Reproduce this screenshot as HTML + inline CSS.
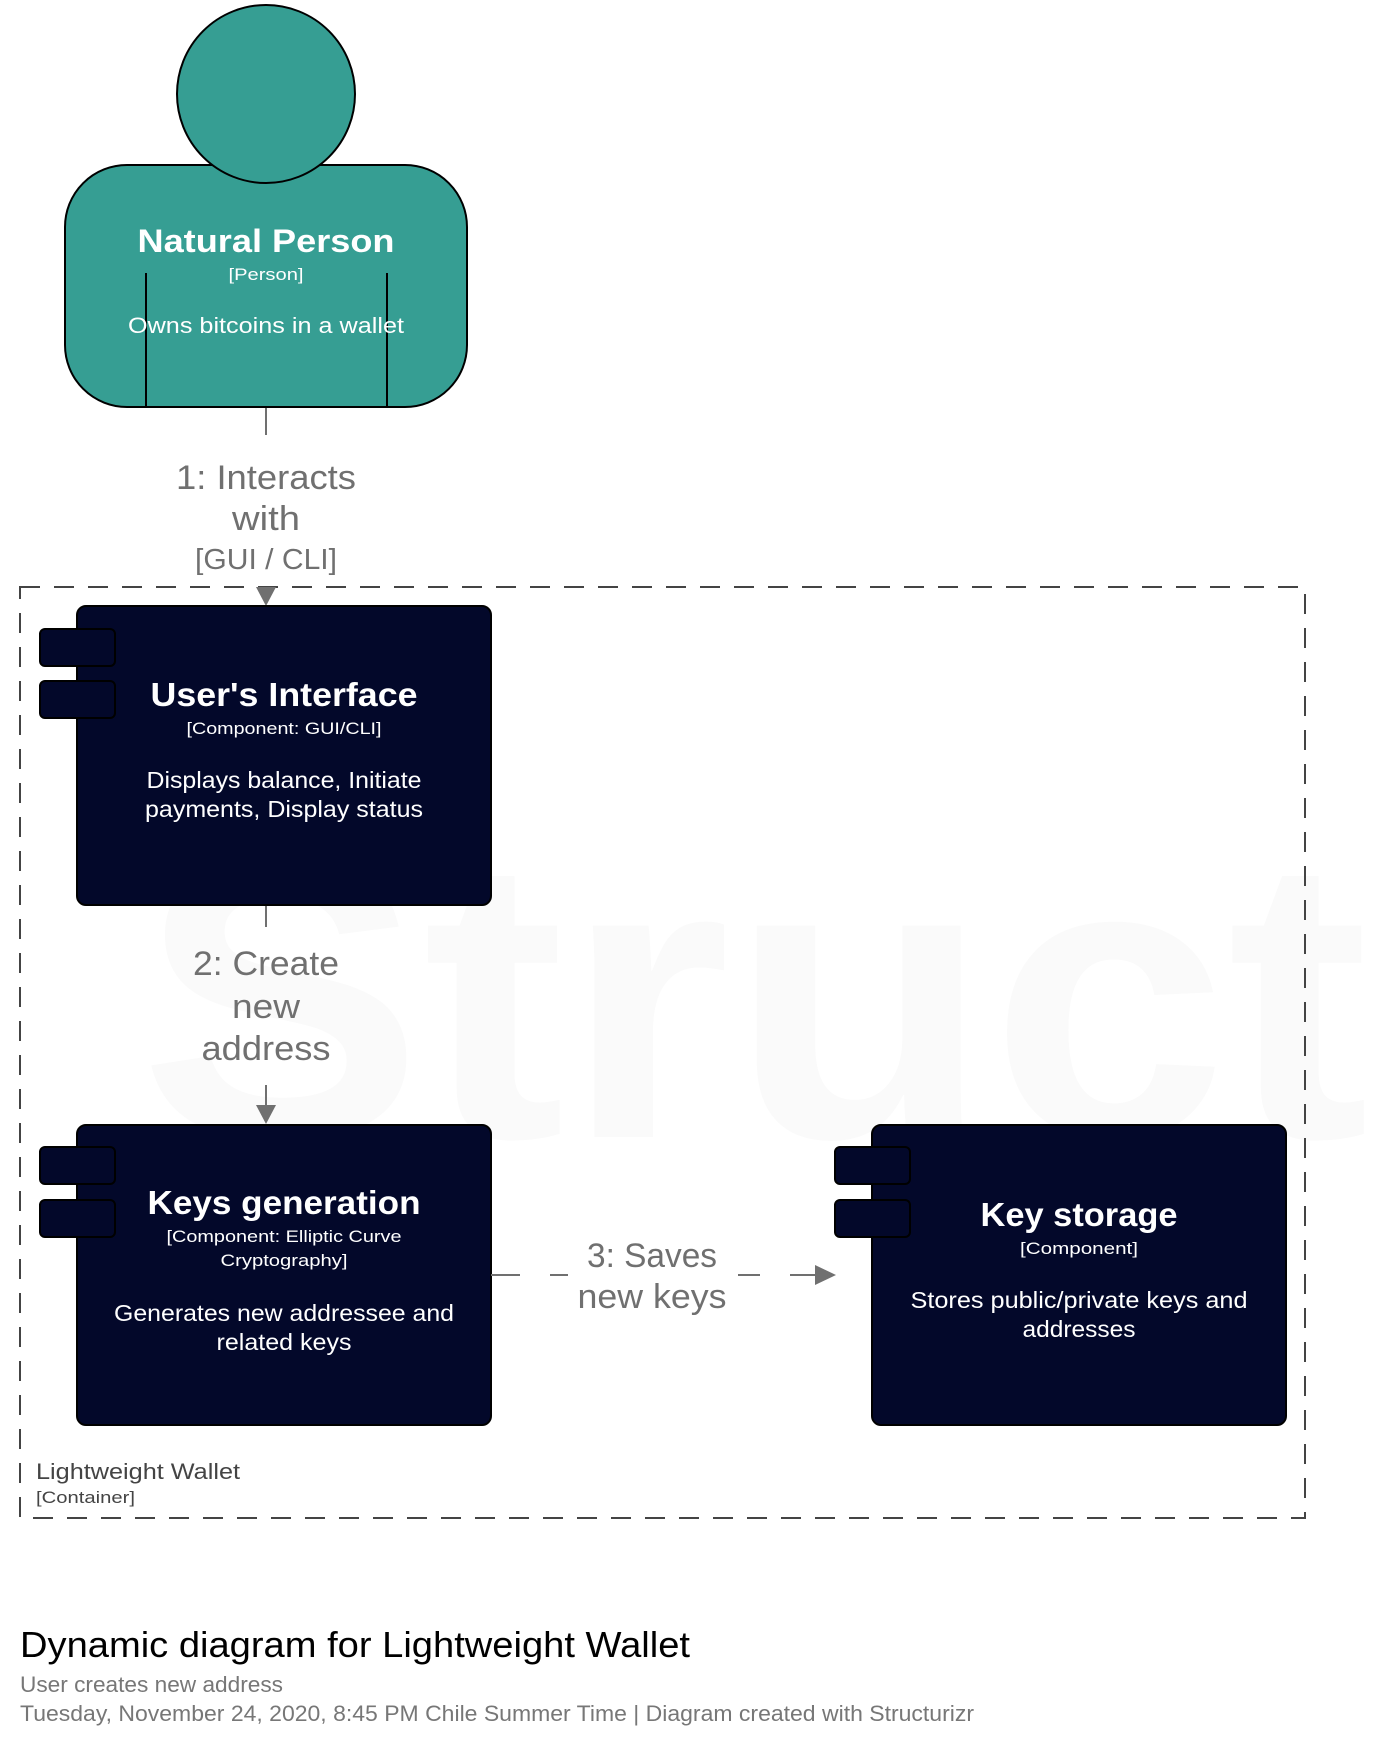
<!DOCTYPE html>
<html><head><meta charset="utf-8"><style>
html,body{margin:0;padding:0;background:#fff;}
svg{display:block;}
text{font-family:"Liberation Sans",sans-serif;}
</style></head><body>
<svg width="1397" height="1748" viewBox="0 0 1397 1748" xmlns="http://www.w3.org/2000/svg">
<text x="139" y="1137" font-size="400" font-weight="bold" fill="#fafafa" textLength="1230" lengthAdjust="spacingAndGlyphs">Struct</text>
<!-- boundary -->
<rect x="20" y="587" width="1285" height="931" fill="none" stroke="#444" stroke-width="2" stroke-dasharray="20,14"/>
<text x="36" y="1479" font-size="22" fill="#444" textLength="204" lengthAdjust="spacingAndGlyphs">Lightweight Wallet</text>
<text x="36" y="1503" font-size="17" fill="#444" textLength="99" lengthAdjust="spacingAndGlyphs">[Container]</text>
<!-- person -->
<rect x="65" y="165" width="402" height="242" rx="62" fill="#369e93" stroke="#000" stroke-width="2"/>
<circle cx="266" cy="94" r="89" fill="#369e93" stroke="#000" stroke-width="2"/>
<line x1="146" y1="273" x2="146" y2="406" stroke="#000" stroke-width="2"/>
<line x1="387" y1="273" x2="387" y2="406" stroke="#000" stroke-width="2"/>
<text x="266" y="252" font-size="32" font-weight="bold" fill="#fff" text-anchor="middle" textLength="257" lengthAdjust="spacingAndGlyphs">Natural Person</text>
<text x="266" y="280" font-size="17" fill="#fff" text-anchor="middle" textLength="75" lengthAdjust="spacingAndGlyphs">[Person]</text>
<text x="266" y="333" font-size="22" fill="#fff" text-anchor="middle" textLength="276" lengthAdjust="spacingAndGlyphs">Owns bitcoins in a wallet</text>
<!-- connector 1 -->
<line x1="266" y1="408" x2="266" y2="435" stroke="#707070" stroke-width="2"/>
<text x="266" y="489" font-size="34" fill="#707070" text-anchor="middle" textLength="180" lengthAdjust="spacingAndGlyphs">1: Interacts</text>
<text x="266" y="530" font-size="34" fill="#707070" text-anchor="middle" textLength="68" lengthAdjust="spacingAndGlyphs">with</text>
<text x="266" y="569" font-size="29" fill="#707070" text-anchor="middle" textLength="142" lengthAdjust="spacingAndGlyphs">[GUI / CLI]</text>
<polygon points="256,587 276,587 266,606" fill="#707070"/>
<!-- UI box -->
<rect x="77" y="606" width="414" height="299" rx="9" fill="#03082a" stroke="#000" stroke-width="2"/>
<rect x="40" y="629" width="75" height="37" rx="5" fill="#03082a" stroke="#000" stroke-width="2"/>
<rect x="40" y="681" width="75" height="37" rx="5" fill="#03082a" stroke="#000" stroke-width="2"/>
<text x="284" y="706" font-size="33" font-weight="bold" fill="#fff" text-anchor="middle" textLength="267" lengthAdjust="spacingAndGlyphs">User's Interface</text>
<text x="284" y="734" font-size="17" fill="#fff" text-anchor="middle" textLength="195" lengthAdjust="spacingAndGlyphs">[Component: GUI/CLI]</text>
<text x="284" y="788" font-size="23" fill="#fff" text-anchor="middle" textLength="275" lengthAdjust="spacingAndGlyphs">Displays balance, Initiate</text>
<text x="284" y="817" font-size="23" fill="#fff" text-anchor="middle" textLength="278" lengthAdjust="spacingAndGlyphs">payments, Display status</text>
<!-- connector 2 -->
<line x1="266" y1="906" x2="266" y2="927" stroke="#707070" stroke-width="2"/>
<text x="266" y="975" font-size="34" fill="#707070" text-anchor="middle" textLength="146" lengthAdjust="spacingAndGlyphs">2: Create</text>
<text x="266" y="1018" font-size="34" fill="#707070" text-anchor="middle" textLength="68" lengthAdjust="spacingAndGlyphs">new</text>
<text x="266" y="1060" font-size="34" fill="#707070" text-anchor="middle" textLength="129" lengthAdjust="spacingAndGlyphs">address</text>
<line x1="266" y1="1085" x2="266" y2="1106" stroke="#707070" stroke-width="2"/>
<polygon points="256,1105 276,1105 266,1124" fill="#707070"/>
<!-- Keys generation -->
<rect x="77" y="1125" width="414" height="300" rx="9" fill="#03082a" stroke="#000" stroke-width="2"/>
<rect x="40" y="1147" width="75" height="37" rx="5" fill="#03082a" stroke="#000" stroke-width="2"/>
<rect x="40" y="1200" width="75" height="37" rx="5" fill="#03082a" stroke="#000" stroke-width="2"/>
<text x="284" y="1214" font-size="33" font-weight="bold" fill="#fff" text-anchor="middle" textLength="273" lengthAdjust="spacingAndGlyphs">Keys generation</text>
<text x="284" y="1242" font-size="17" fill="#fff" text-anchor="middle" textLength="235" lengthAdjust="spacingAndGlyphs">[Component: Elliptic Curve</text>
<text x="284" y="1266" font-size="17" fill="#fff" text-anchor="middle" textLength="127" lengthAdjust="spacingAndGlyphs">Cryptography]</text>
<text x="284" y="1321" font-size="23" fill="#fff" text-anchor="middle" textLength="340" lengthAdjust="spacingAndGlyphs">Generates new addressee and</text>
<text x="284" y="1350" font-size="23" fill="#fff" text-anchor="middle" textLength="135" lengthAdjust="spacingAndGlyphs">related keys</text>
<!-- connector 3 -->
<line x1="491" y1="1275" x2="520" y2="1275" stroke="#707070" stroke-width="2"/>
<line x1="550" y1="1275" x2="568" y2="1275" stroke="#707070" stroke-width="2"/>
<line x1="738" y1="1275" x2="760" y2="1275" stroke="#707070" stroke-width="2"/>
<line x1="790" y1="1275" x2="816" y2="1275" stroke="#707070" stroke-width="2"/>
<polygon points="815,1265 836,1275 815,1285" fill="#707070"/>
<text x="652" y="1267" font-size="34" fill="#707070" text-anchor="middle" textLength="130" lengthAdjust="spacingAndGlyphs">3: Saves</text>
<text x="652" y="1308" font-size="34" fill="#707070" text-anchor="middle" textLength="149" lengthAdjust="spacingAndGlyphs">new keys</text>
<!-- Key storage -->
<rect x="872" y="1125" width="414" height="300" rx="9" fill="#03082a" stroke="#000" stroke-width="2"/>
<rect x="835" y="1147" width="75" height="37" rx="5" fill="#03082a" stroke="#000" stroke-width="2"/>
<rect x="835" y="1200" width="75" height="37" rx="5" fill="#03082a" stroke="#000" stroke-width="2"/>
<text x="1079" y="1226" font-size="33" font-weight="bold" fill="#fff" text-anchor="middle" textLength="197" lengthAdjust="spacingAndGlyphs">Key storage</text>
<text x="1079" y="1254" font-size="17" fill="#fff" text-anchor="middle" textLength="118" lengthAdjust="spacingAndGlyphs">[Component]</text>
<text x="1079" y="1308" font-size="23" fill="#fff" text-anchor="middle" textLength="337" lengthAdjust="spacingAndGlyphs">Stores public/private keys and</text>
<text x="1079" y="1337" font-size="23" fill="#fff" text-anchor="middle" textLength="113" lengthAdjust="spacingAndGlyphs">addresses</text>
<!-- footer -->
<text x="20" y="1657" font-size="36" fill="#000" textLength="670" lengthAdjust="spacingAndGlyphs">Dynamic diagram for Lightweight Wallet</text>
<text x="20" y="1692" font-size="22" fill="#777" textLength="263" lengthAdjust="spacingAndGlyphs">User creates new address</text>
<text x="20" y="1721" font-size="22" fill="#777" textLength="954" lengthAdjust="spacingAndGlyphs">Tuesday, November 24, 2020, 8:45 PM Chile Summer Time | Diagram created with Structurizr</text>
</svg>
</body></html>
